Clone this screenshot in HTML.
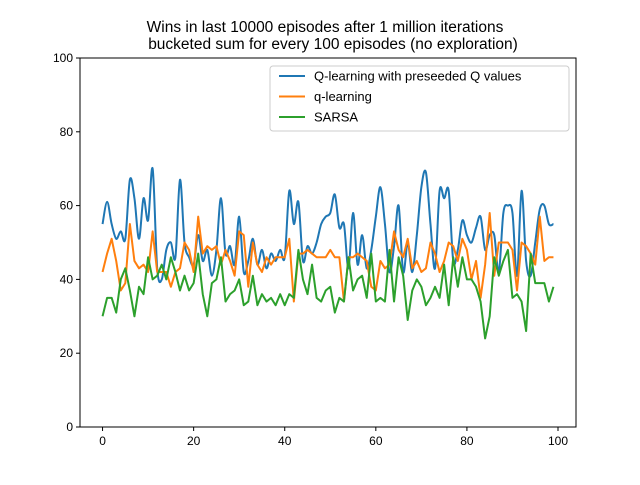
<!DOCTYPE html>
<html><head><meta charset="utf-8"><style>
body{margin:0;background:#fff}
text{font-family:"Liberation Sans","DejaVu Sans",sans-serif;fill:#000}
</style></head><body>
<svg id="chart" width="640" height="480" xmlns="http://www.w3.org/2000/svg">
<rect width="640" height="480" fill="#fff"/>
<text x="325" y="32" font-size="15.5" text-anchor="middle">Wins in last 10000 episodes after 1 million iterations</text>
<text x="333" y="49" font-size="15.5" text-anchor="middle">bucketed sum for every 100 episodes (no exploration)</text>
<g id="plot"></g>
</svg>
<script>
const xTicks=[0,20,40,60,80,100];
const yTicks=[0,20,40,60,80,100];
const seriesNames=["Q-learning with preseeded Q values","q-learning","SARSA"];
const blue=[55,61,55,51,53,51,67,62,51,62,56,70,43,40,48,50,46,67,50,46,44,52,45,48,41,48,62,47,49,44,57,42,45,51,44,48,43,47,45,48,46,64,55,61,45,49,47,50,55,57,58,63,54,55,43,58,44,52,43,48,57,65,55,42,49,60,42,50,42,52,65,69,55,43,64,62,64,45,48,56,52,50,54,57,48,52,52,42,58,60,58,41,64,45,41,50,59,60,55,55];
const orange=[42,47,51,45,37,39,55,45,43,44,42,53,42,42,42,38,42,43,50,48,42,57,47,49,48,49,44,48,45,41,53,52,38,50,44,42,46,44,46,46,46,51,34,47,47,48,47,46,46,46,48,46,46,34,46,46,47,46,45,38,37,45,43,44,53,48,46,51,43,45,42,43,50,47,42,45,50,49,45,51,48,40,45,35,44,58,41,50,50,50,48,37,50,49,47,44,57,45,46,46];
const green=[30,35,35,31,40,43,37,30,38,36,46,40,41,44,40,46,42,37,41,37,39,47,36,30,39,40,46,34,36,37,40,33,34,41,33,36,34,35,33,36,33,36,35,48,40,36,44,35,34,37,38,31,35,34,46,37,40,41,35,47,34,35,34,48,34,46,41,29,37,40,38,33,35,38,35,44,33,46,38,46,40,40,38,34,24,30,46,41,45,48,35,36,34,26,47,39,39,39,34,38];
const colors=["#1f77b4","#ff7f0e","#2ca02c"];
const L=80,R=576,T=58,B=427;
const xmin=-4.95,xmax=103.95;
const X=v=>L+(v-xmin)/(xmax-xmin)*(R-L);
const Y=v=>B-(v/100)*(B-T);
const NS="http://www.w3.org/2000/svg";
const g=document.getElementById('plot');
function mk(t,a){const e=document.createElementNS(NS,t);for(const k in a)e.setAttribute(k,a[k]);g.appendChild(e);return e;}
function smooth(vals){
  const p=vals.map((v,i)=>[X(i),Y(v)]);
  let d=`M${p[0][0]},${p[0][1]}`;
  for(let i=0;i<p.length-1;i++){
    const p0=p[Math.max(0,i-1)],p1=p[i],p2=p[i+1],p3=p[Math.min(p.length-1,i+2)];
    d+=` C${p1[0]+(p2[0]-p0[0])/6},${p1[1]+(p2[1]-p0[1])/6} ${p2[0]-(p3[0]-p1[0])/6},${p2[1]-(p3[1]-p1[1])/6} ${p2[0]},${p2[1]}`;
  }
  return d;
}
function poly(vals){return vals.map((v,i)=>`${i?'L':'M'}${X(i)},${Y(v)}`).join(' ');}
let e;
e=mk('path',{d:smooth(blue),fill:'none',stroke:colors[0],'stroke-width':2});


e=mk('path',{d:poly(orange),fill:'none',stroke:colors[1],'stroke-width':2,'stroke-linejoin':'round'});


e=mk('path',{d:poly(green),fill:'none',stroke:colors[2],'stroke-width':2,'stroke-linejoin':'round'});


e=mk('rect',{x:L,y:T,width:R-L,height:B-T,fill:'none',stroke:'#000','stroke-width':1});


xTicks.forEach(t=>{
  e=mk('line',{x1:X(t),x2:X(t),y1:B,y2:B+4,stroke:'#000'});
  
  
  e=mk('text',{x:X(t),y:B+18,'font-size':12,'text-anchor':'middle'});e.textContent=t;
  
  
});
yTicks.forEach(t=>{
  e=mk('line',{x1:L-4,x2:L,y1:Y(t),y2:Y(t),stroke:'#000'});
  
  
  e=mk('text',{x:L-7,y:Y(t)+4,'font-size':12,'text-anchor':'end'});e.textContent=t;
  
  
});
e=mk('rect',{x:270,y:66,width:299,height:65,rx:3,fill:'#fff','fill-opacity':0.8,stroke:'#ccc'});


seriesNames.forEach((n,i)=>{
  const y=76+i*20.5;
  e=mk('line',{x1:279,x2:305,y1:y,y2:y,stroke:colors[i],'stroke-width':2});
  
  
  e=mk('text',{x:314,y:y+4.5,'font-size':13});e.textContent=n;
  
  
});
</script>
</body></html>
